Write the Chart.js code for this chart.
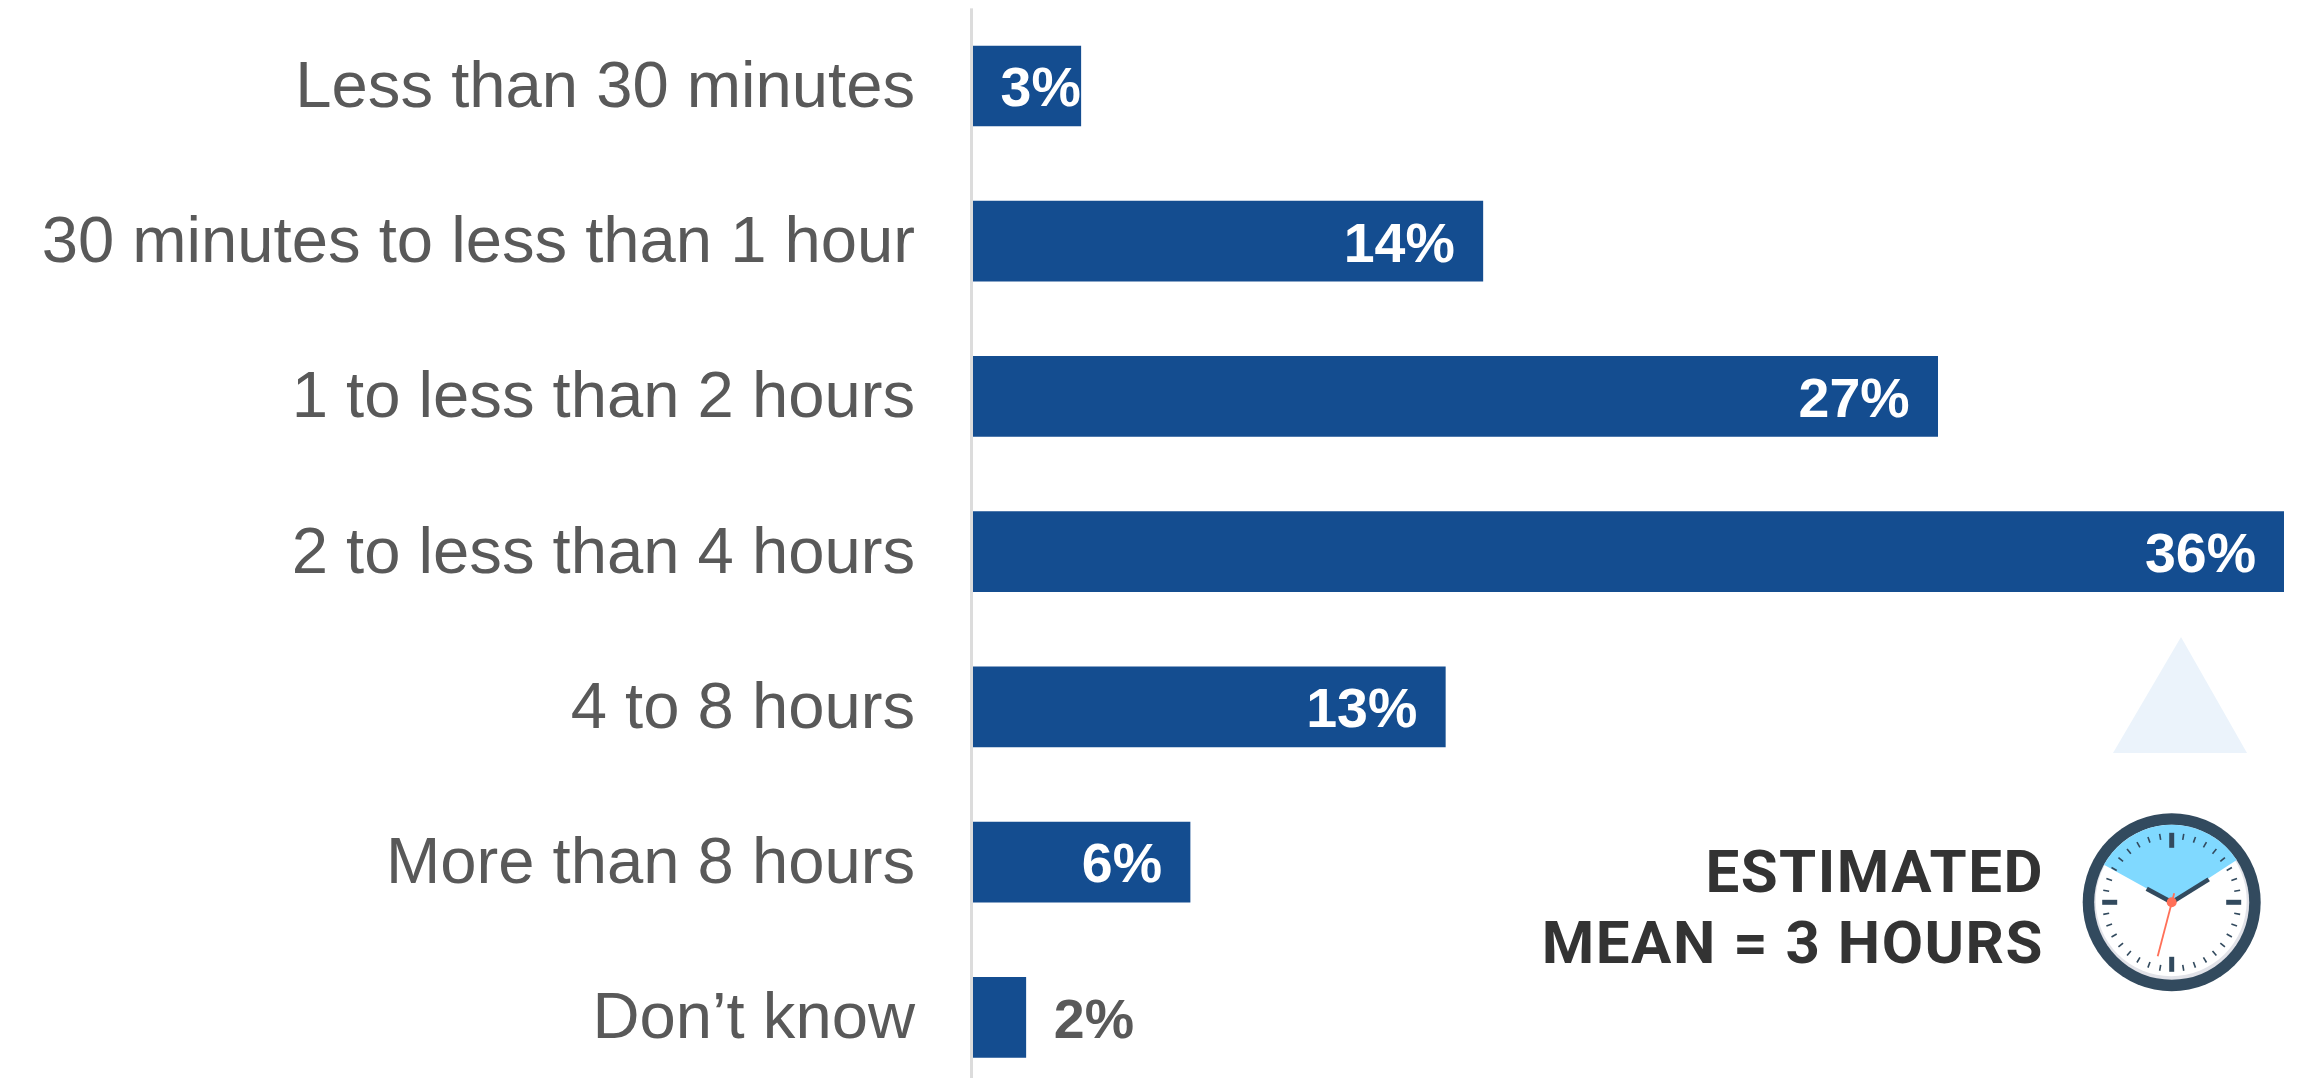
<!DOCTYPE html>
<html><head><meta charset="utf-8">
<style>html,body{margin:0;padding:0;background:#fff;width:2301px;height:1078px;overflow:hidden}canvas{display:block}</style>
<script src="https://cdn.jsdelivr.net/npm/chart.js@4"></script>
</head><body>
<div style="width:2301px;height:1095px;position:relative"><canvas id="c" width="2301" height="1095"></canvas></div>
<script>
const categories = ["Less than 30 minutes","30 minutes to less than 1 hour","1 to less than 2 hours","2 to less than 4 hours","4 to 8 hours","More than 8 hours","Don\u2019t know"];
const barLengths = [2.96, 14, 26.49, 36, 12.97, 5.96, 1.45];
const valueLabels = ["3%","14%","27%","36%","13%","6%","2%"];
const calloutLines = ["ESTIMATED","MEAN = 3 HOURS"];

const axisLinePlugin = {
  id:'axisLine',
  beforeDatasetsDraw(chart){
    const ctx=chart.ctx, a=chart.chartArea;
    ctx.save();
    ctx.fillStyle='#dcdcdc';
    ctx.fillRect(a.left-3,a.top,3,a.bottom-a.top);
    ctx.restore();
  }
};
const labelPlugin = {
  id:'valueLabels',
  afterDatasetsDraw(chart){
    const ctx=chart.ctx, bars=chart.getDatasetMeta(0).data;
    ctx.save();
    ctx.font='bold 55.5px "Liberation Sans"';
    ctx.textBaseline='middle';
    bars.forEach((b,i)=>{
      if(i===6){ctx.fillStyle='#595959';ctx.textAlign='left';ctx.fillText(valueLabels[i],b.x+28,b.y+5);}
      else{ctx.fillStyle='#fff';ctx.textAlign='right';ctx.fillText(valueLabels[i],b.x-(i===0?0:28),b.y+5);}
    });
    ctx.restore();
  }
};
const decorPlugin = {
  id:'decor',
  afterDraw(chart){
    const ctx=chart.ctx;
    ctx.save();
    // triangle
    ctx.fillStyle='#ebf3fb';
    ctx.beginPath();ctx.moveTo(2181,637);ctx.lineTo(2247,753);ctx.lineTo(2113,753);ctx.closePath();ctx.fill();
    // callout
    ctx.fillStyle='#333333';ctx.textAlign='right';ctx.textBaseline='alphabetic';
    ctx.font='bold 60px Roboto';
    ctx.letterSpacing='1.5px';
    ctx.fillText(calloutLines[0],2044,892);
    ctx.fillText(calloutLines[1],2044,963);
    ctx.letterSpacing='0px';
    // clock
    const cx=2171.7,cy=902.3;
    const rad=d=>(d-90)*Math.PI/180;
    const circle=(r,c)=>{ctx.fillStyle=c;ctx.beginPath();ctx.arc(cx,cy,r,0,Math.PI*2);ctx.fill();};
    circle(89,'#324a5e');
    circle(77.5,'#e1e2e8');
    ctx.fillStyle='#fff';ctx.beginPath();ctx.arc(cx-0.5,cy-1.5,75.5,0,Math.PI*2);ctx.fill();
    ctx.fillStyle='#80d9ff';ctx.beginPath();ctx.moveTo(cx,cy);ctx.arc(cx,cy,77.5,rad(-61),rad(57));ctx.closePath();ctx.fill();
    ctx.strokeStyle='#324a5e';ctx.lineCap='butt';
    for(let a=0;a<360;a+=10){
      const q=a%90===0;
      ctx.lineWidth=q?5:1.6;
      const r1=69.5,r0=q?54.5:63.5;
      ctx.beginPath();ctx.moveTo(cx+r0*Math.cos(rad(a)),cy+r0*Math.sin(rad(a)));ctx.lineTo(cx+r1*Math.cos(rad(a)),cy+r1*Math.sin(rad(a)));ctx.stroke();
    }
    ctx.lineWidth=4.5;
    ctx.beginPath();ctx.moveTo(cx,cy);ctx.lineTo(cx-25,cy-13.5);ctx.stroke();
    ctx.beginPath();ctx.moveTo(cx,cy);ctx.lineTo(cx+37,cy-23);ctx.stroke();
    ctx.strokeStyle='#ff7058';ctx.lineWidth=1.8;
    ctx.beginPath();ctx.moveTo(cx+2.5,cy-9);ctx.lineTo(cx-14,cy+54);ctx.stroke();
    circle(5,'#ff7058');
    ctx.restore();
  }
};
new Chart(document.getElementById('c'),{
  type:'bar',
  data:{labels:categories,datasets:[{data:barLengths,backgroundColor:'#144d90',borderWidth:0,barThickness:80}]},
  options:{
    indexAxis:'y',responsive:false,animation:false,
    layout:{padding:{top:8.35,bottom:0,right:17,left:0}},
    plugins:{legend:{display:false},tooltip:{enabled:false}},
    scales:{
      x:{min:0,max:36,display:false},
      y:{
        afterFit(s){
          s.width=973;s.paddingTop=0;s.paddingBottom=0;
          if(!s._shifted){
            const orig=s._computeLabelItems;
            s._computeLabelItems=function(a){
              const items=orig.call(this,a);
              items.forEach(it=>{it.options.translation=[it.options.translation[0],it.options.translation[1]+3];});
              return items;
            };
            s._shifted=true;
          }
        },
        grid:{display:false,drawTicks:false},
        border:{display:false},
        ticks:{color:'#595959',font:{family:'"Liberation Sans"',size:65.2},padding:58,autoSkip:false}
      }
    }
  },
  plugins:[axisLinePlugin,labelPlugin,decorPlugin]
});
</script>
</body></html>
